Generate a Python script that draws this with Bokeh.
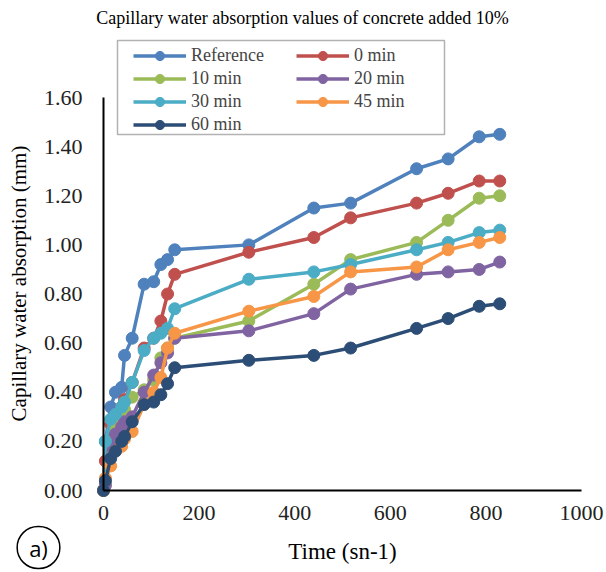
import math
from bokeh.plotting import figure
from bokeh.models import (Legend, LegendItem, Label, BoxAnnotation, FixedTicker,
                          NumeralTickFormatter, Range1d)
from bokeh.embed import file_html
from bokeh.resources import INLINE

# ---- data ----
time = [0, 4, 15, 25, 38, 44, 60, 85, 105, 120, 134, 149, 304, 440, 517, 655, 721, 786, 829]

reference = [0, 0.20, 0.34, 0.40, 0.42, 0.55, 0.62, 0.84, 0.85, 0.92, 0.94, 0.98, 1.00, 1.15, 1.17, 1.31, 1.35, 1.44, 1.45]
min0 = [0, 0.12, 0.27, 0.30, 0.34, 0.37, 0.44, 0.58, 0.62, 0.69, 0.80, 0.88, 0.97, 1.03, 1.11, 1.17, 1.21, 1.26, 1.26]
min10 = [0, 0.03, 0.20, 0.25, 0.28, 0.33, 0.38, 0.41, 0.45, 0.54, 0.58, 0.62, 0.69, 0.84, 0.94, 1.01, 1.10, 1.19, 1.20]
min20 = [0, 0.02, 0.18, 0.23, 0.26, 0.28, 0.30, 0.40, 0.47, 0.52, 0.56, 0.62, 0.65, 0.72, 0.82, 0.88, 0.89, 0.90, 0.93]
min30 = [0, 0.20, 0.29, 0.31, 0.34, 0.36, 0.44, 0.57, 0.62, 0.64, 0.66, 0.74, 0.86, 0.89, 0.92, 0.98, 1.01, 1.05, 1.06]
min45 = [0, 0.05, 0.10, 0.16, 0.18, 0.21, 0.24, 0.35, 0.40, 0.46, 0.58, 0.64, 0.73, 0.79, 0.89, 0.91, 0.98, 1.01, 1.03]
min60 = [0, 0.04, 0.13, 0.16, 0.20, 0.22, 0.28, 0.35, 0.36, 0.39, 0.435, 0.50, 0.53, 0.55, 0.58, 0.66, 0.70, 0.75, 0.76]

series_names = ["Reference", "0 min", "10 min", "20 min", "30 min", "45 min", "60 min"]
series_values = [reference, min0, min10, min20, min30, min45, min60]
colors = ["#4F81BD", "#C0504D", "#9BBB59", "#8064A2", "#4BACC6", "#F79646", "#2C4D75"]

x_ticks = [0, 200, 400, 600, 800, 1000]
y_ticks = [0, 0.2, 0.4, 0.6, 0.8, 1.0, 1.2, 1.4, 1.6]
x_bounds = (0, 1000)
y_bounds = (0, 1.6)

title_text = "Capillary water absorption values of concrete added 10%"
x_label = "Time (sn-1)"
y_label = "Capillary water absorption (mm)"

FONT = "Liberation Serif"
W, H = 606, 572
# pixel geometry of the axes box
X0, X1 = 103, 581     # pixels of x = 0 and x = 1000
Y0, Y1 = 490, 97      # pixels (from top) of y = 0 and y = 1.6
xs = (X1 - X0) / (x_bounds[1] - x_bounds[0])
ys = (Y0 - Y1) / (y_bounds[1] - y_bounds[0])

p = figure(width=W, height=H,
           x_range=Range1d(-X0 / xs, (W - X0) / xs),
           y_range=Range1d(-(H - Y0) / ys, Y0 / ys),
           output_backend="svg", toolbar_location=None,
           min_border_left=0, min_border_right=0, min_border_top=0, min_border_bottom=0)
p.outline_line_color = None
p.xgrid.visible = False
p.ygrid.visible = False
p.background_fill_color = "white"
p.border_fill_color = "white"

for ax in (p.xaxis[0], p.yaxis[0]):
    ax.fixed_location = 0
    ax.axis_line_color = "black"
    ax.axis_line_width = 2
    ax.major_tick_line_color = None
    ax.minor_tick_line_color = None
    ax.major_tick_out = 0
    ax.major_tick_in = 0
    ax.major_label_text_font = FONT
    ax.major_label_text_font_size = "22px"
    ax.major_label_text_color = "#222222"

p.xaxis.bounds = x_bounds
p.yaxis.bounds = y_bounds
p.xaxis.ticker = FixedTicker(ticks=x_ticks)
p.yaxis.ticker = FixedTicker(ticks=y_ticks)
p.yaxis.formatter = NumeralTickFormatter(format="0.00")
p.xaxis.major_label_standoff = 15
p.yaxis.major_label_standoff = 21

items = []
for name, vals, c in zip(series_names, series_values, colors):
    ln = p.line(time, vals, line_color=c, line_width=3.5)
    sc = p.scatter(time, vals, size=12, fill_color=c, line_color=c)
    items.append(LegendItem(label=name, renderers=[ln, sc]))

box = BoxAnnotation(left=117, right=444, top=H - 40, bottom=H - 134,
                    left_units="screen", right_units="screen", top_units="screen", bottom_units="screen",
                    fill_color="white", fill_alpha=1.0, line_color="black", line_width=1.5)
p.add_layout(box)

common = dict(label_text_font=FONT, label_text_font_size="18px", glyph_width=53, glyph_height=23,
              label_height=23, label_standoff=5, spacing=0, padding=4, margin=0,
              border_line_color=None, background_fill_alpha=0)
leg1 = Legend(items=[items[0], items[2], items[4], items[6]], location=(133, H - 36 - 100), **common)
leg2 = Legend(items=[items[1], items[3], items[5]], location=(296, H - 36 - 77), **common)
p.add_layout(leg1, "center")
p.add_layout(leg2, "center")

p.add_layout(Label(x=302, y=H - 17, x_units="screen", y_units="screen", text=title_text,
                   text_align="center", text_baseline="middle", text_font=FONT,
                   text_font_size="18px", text_color="black"))
p.add_layout(Label(x=(X0 + X1) / 2, y=H - 551, x_units="screen", y_units="screen", text=x_label,
                   text_align="center", text_baseline="middle", text_font=FONT,
                   text_font_size="23px", text_color="black"))
p.add_layout(Label(x=18, y=H - 283, x_units="screen", y_units="screen", text=y_label,
                   angle=math.pi / 2, text_align="center", text_baseline="middle", text_font=FONT,
                   text_font_size="21px", text_color="black"))
p.add_layout(Label(x=38, y=H - 547, x_units="screen", y_units="screen", text="a)",
                   text_align="center", text_baseline="middle", text_font="Open Sans",
                   text_font_size="22px", text_color="black", border_line_color="black",
                   border_line_width=1.5, border_radius=22, padding=(12, 6)))

open("out.html", "w").write(file_html(p, INLINE))
